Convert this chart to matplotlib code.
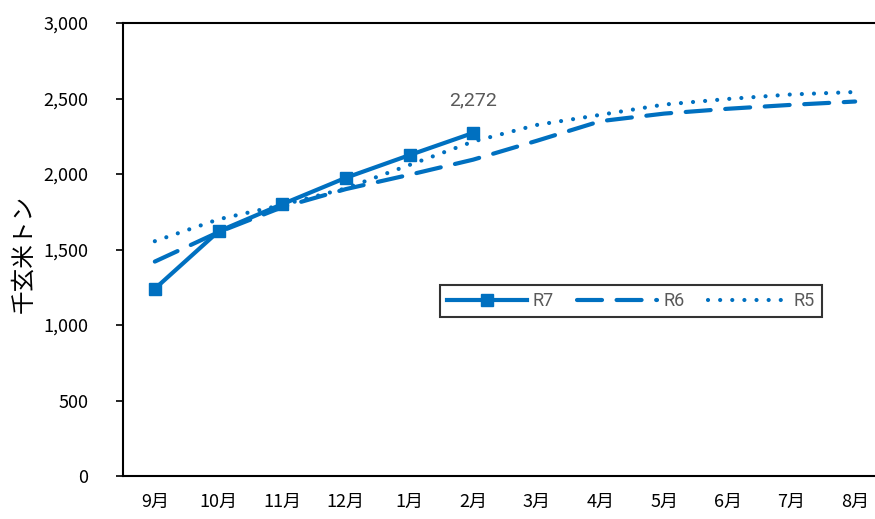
import matplotlib
matplotlib.use("Agg")
import matplotlib.pyplot as plt

plt.rcParams['font.family'] = ['Noto Sans CJK JP', 'DejaVu Sans']

months = ['9月', '10月', '11月', '12月', '1月', '2月', '3月', '4月', '5月', '6月', '7月', '8月']
r7 = [1240, 1620, 1800, 1975, 2125, 2272]
r6 = [1420, 1615, 1780, 1900, 1995, 2095, 2220, 2350, 2400, 2432, 2458, 2480]
r5 = [1555, 1700, 1795, 1905, 2060, 2215, 2325, 2392, 2460, 2497, 2527, 2543]
yticks = [0, 500, 1000, 1500, 2000, 2500, 3000]

blue = '#0070C0'
gray = '#595959'

fig = plt.figure(figsize=(8.75, 5.19), dpi=100)
ax = fig.add_axes([123 / 875, 43 / 519, 764 / 875, 453 / 519])

x6 = list(range(len(r6)))
x5 = list(range(len(r5)))
x7 = list(range(len(r7)))

ax.plot(x7, r7, color=blue, lw=3, marker='s', markersize=9, label='R7', zorder=4)
ax.plot(x6, r6, color=blue, lw=3, dashes=(6, 3.5), dash_capstyle='round', label='R6', zorder=3)
ax.plot(x5, r5, color=blue, lw=3, dashes=(0.01, 2.9), dash_capstyle='round', label='R5', zorder=3)

ax.annotate('2,272', (x7[-1], r7[-1]), xytext=(0, 17), textcoords='offset points',
            ha='center', va='bottom', fontsize=14, color=gray, family=['Roboto', 'DejaVu Sans'])

ax.set_xlim(-0.5, len(months) - 0.5)
ax.set_ylim(0, 3000)
ax.set_xticks(range(len(months)))
ax.set_xticklabels(months, fontsize=13)
ax.set_yticks(yticks)
ax.set_yticklabels([f'{v:,}' for v in yticks], fontsize=13)
ax.tick_params(axis='x', length=0, pad=12)
ax.tick_params(axis='y', direction='out', length=5, width=1.2, pad=20)
for s in ax.spines.values():
    s.set_linewidth(1.5)
    s.set_color('black')

ax.set_ylabel('千玄米トン', fontsize=17)
ax.yaxis.set_label_coords(-0.115, 0.49)

leg = fig.legend(loc='center', bbox_to_anchor=(631 / 875, 1 - 301 / 519), ncol=3,
                 frameon=True, fancybox=False, edgecolor='black',
                 handlelength=4.4, columnspacing=1.3, handletextpad=0.35,
                 borderpad=0.4, prop={'family': ['Roboto', 'DejaVu Sans'], 'size': 13})
leg.get_frame().set_linewidth(1.5)
for t in leg.get_texts():
    t.set_color(gray)

fig.savefig('out.png', dpi=100)
